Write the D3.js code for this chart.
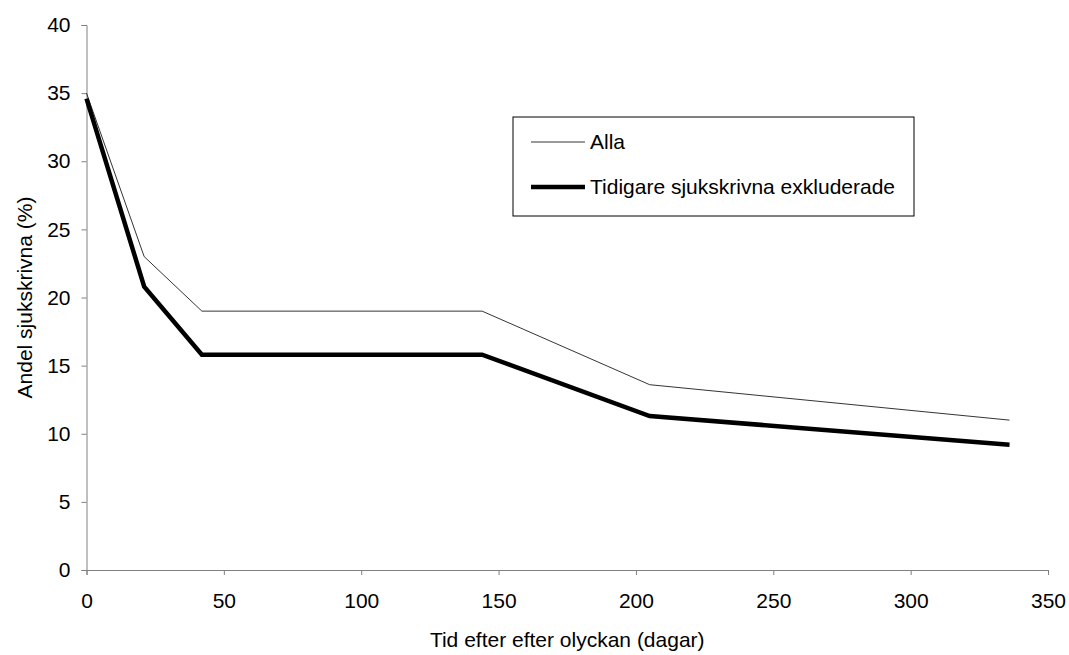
<!DOCTYPE html>
<html>
<head>
<meta charset="utf-8">
<script src="https://cdn.jsdelivr.net/npm/d3@7"></script>
<style>
  body { margin: 0; background: #fff; }
  text { font-family: "Liberation Sans", Arial, sans-serif; fill: #000; }
</style>
</head>
<body>
<div id="chart"></div>
<script>
// dagar efter olyckan
const days = [0, 21, 42, 144, 205, 336];
const alla = [35.0, 23.0, 19.0, 19.0, 13.6, 11.0];
const exkluderade = [34.6, 20.8, 15.8, 15.8, 11.3, 9.2];
const xTicks = [0, 50, 100, 150, 200, 250, 300, 350];
const yTicks = [0, 5, 10, 15, 20, 25, 30, 35, 40];

const width = 1069, height = 655;
const margin = {left: 86.5, right: 21, top: 25, bottom: 85};
const fontSize = 21;

let svg = d3.select('#chart').append('svg')
  .attr('width', width)
  .attr('height', height);

let xScale = d3.scaleLinear().domain([0, 350]).range([margin.left, width - margin.right]);
let yScale = d3.scaleLinear().domain([0, 40]).range([height - margin.bottom, margin.top]);

let xAxis = d3.axisBottom(xScale).tickValues(xTicks).tickSize(5).tickSizeOuter(5).tickPadding(18);
let yAxis = d3.axisLeft(yScale).tickValues(yTicks).tickSize(5).tickSizeOuter(5).tickPadding(11);

let gX = svg.append('g')
  .attr('transform', 'translate(0,' + yScale(0) + ')')
  .call(xAxis);
let gY = svg.append('g')
  .attr('transform', 'translate(' + xScale(0) + ',0)')
  .call(yAxis);

[gX, gY].forEach((g) => {
  g.selectAll('path, line').attr('stroke', '#808080');
  g.selectAll('text').attr('font-size', fontSize).attr('fill', '#000')
    .attr('font-family', '"Liberation Sans", Arial, sans-serif');
});

svg.append('text')
  .attr('x', xScale(175))
  .attr('y', 647)
  .attr('text-anchor', 'middle')
  .attr('font-size', fontSize)
  .text('Tid efter efter olyckan (dagar)');

svg.append('text')
  .attr('transform', 'translate(32,' + yScale(20) + ') rotate(-90)')
  .attr('text-anchor', 'middle')
  .attr('font-size', fontSize)
  .text('Andel sjukskrivna (%)');

let line = d3.line()
  .x((d, i) => xScale(days[i]))
  .y((d) => yScale(d));

svg.append('path')
  .datum(alla)
  .attr('d', line)
  .attr('fill', 'none')
  .attr('stroke', '#000')
  .attr('stroke-width', 0.8);

svg.append('path')
  .datum(exkluderade)
  .attr('d', line)
  .attr('fill', 'none')
  .attr('stroke', '#000')
  .attr('stroke-width', 4.5)
  .attr('stroke-linejoin', 'miter');

// legend
let legend = svg.append('g').attr('transform', 'translate(513,117)');
legend.append('rect')
  .attr('width', 401)
  .attr('height', 99)
  .attr('fill', '#fff')
  .attr('stroke', '#000')
  .attr('stroke-width', 1);

const series = [
  {name: 'Alla', w: 0.8, y: 25},
  {name: 'Tidigare sjukskrivna exkluderade', w: 4.5, y: 70}
];
series.forEach((s) => {
  legend.append('line')
    .attr('x1', 18).attr('x2', 72)
    .attr('y1', s.y).attr('y2', s.y)
    .attr('stroke', '#000')
    .attr('stroke-width', s.w);
  legend.append('text')
    .attr('x', 77)
    .attr('y', s.y + 7)
    .attr('font-size', fontSize)
    .text(s.name);
});
</script>
</body>
</html>
